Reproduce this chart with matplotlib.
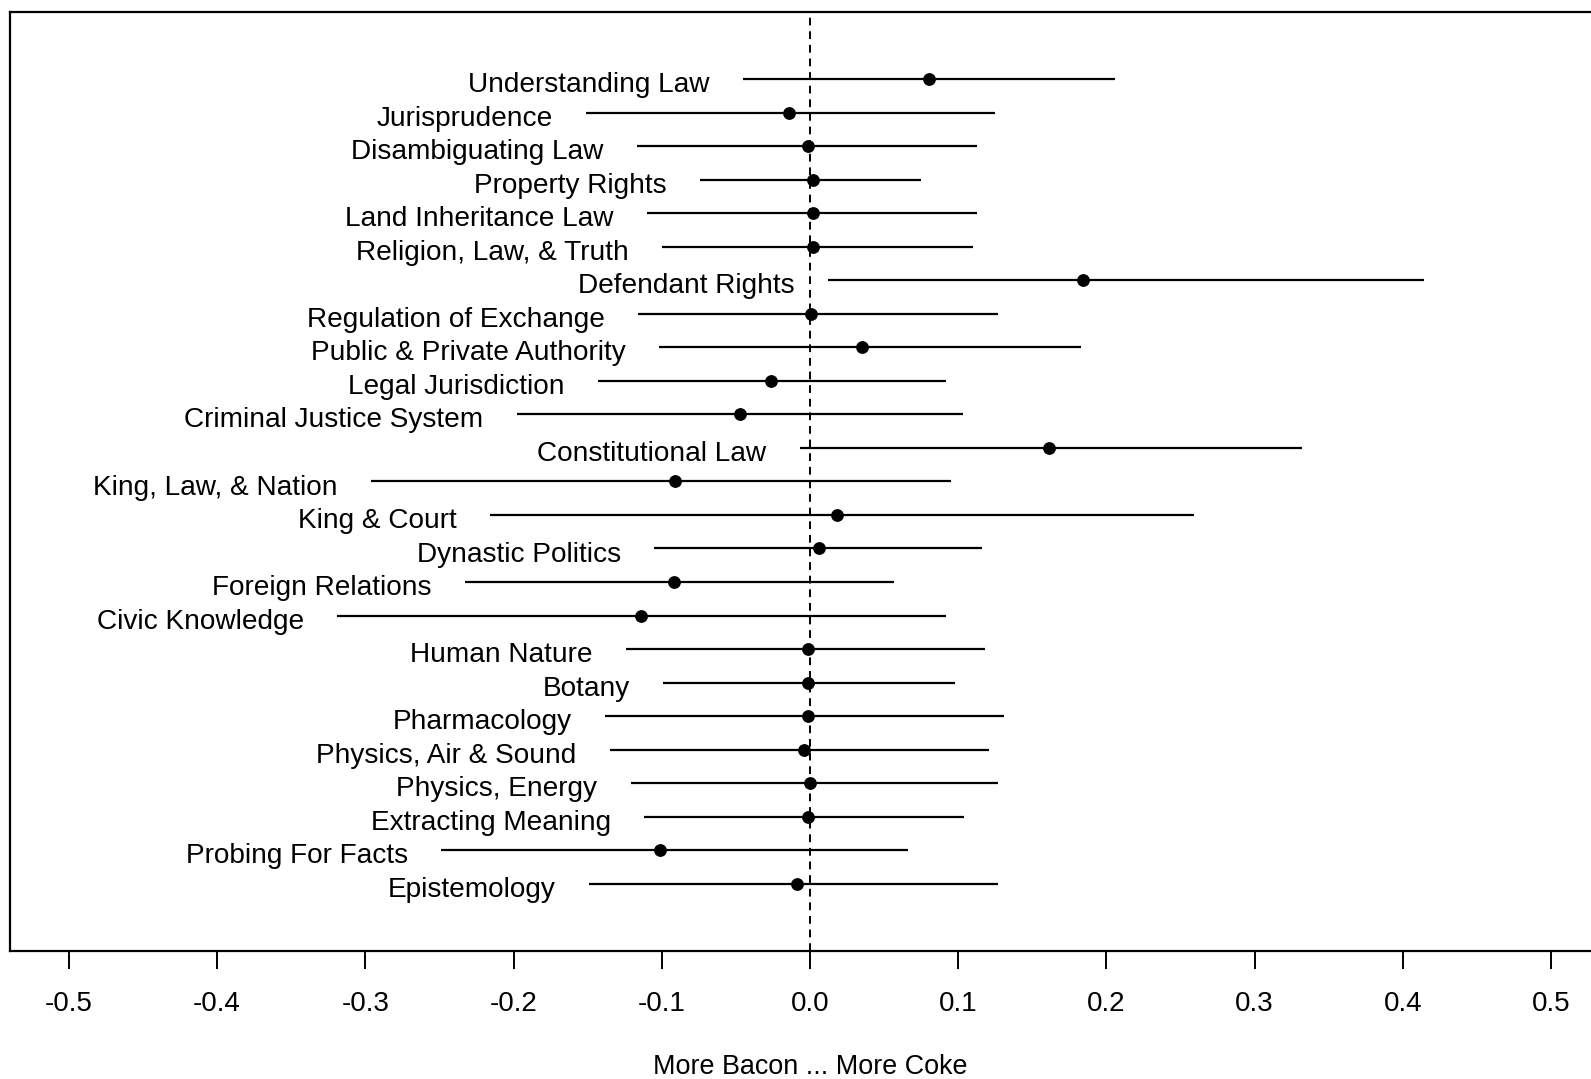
"""
Coefficient plot: topic shifts, More Bacon ... More Coke.
Point estimates with interval lines, labels sitting left of each interval.
"""

import matplotlib
matplotlib.use("Agg")
import matplotlib.pyplot as plt

plt.rcParams['font.family'] = ['Liberation Sans', 'DejaVu Sans']

topics = ["Understanding Law", "Jurisprudence", "Disambiguating Law", "Property Rights",
          "Land Inheritance Law", "Religion, Law, & Truth", "Defendant Rights",
          "Regulation of Exchange", "Public & Private Authority", "Legal Jurisdiction",
          "Criminal Justice System", "Constitutional Law", "King, Law, & Nation",
          "King & Court", "Dynastic Politics", "Foreign Relations", "Civic Knowledge",
          "Human Nature", "Botany", "Pharmacology", "Physics, Air & Sound",
          "Physics, Energy", "Extracting Meaning", "Probing For Facts", "Epistemology"]

estimate = [0.080, -0.014, -0.001, 0.002, 0.002, 0.002, 0.184, 0.001, 0.035, -0.026,
            -0.047, 0.161, -0.091, 0.018, 0.006, -0.092, -0.114, -0.001, -0.001, -0.001,
            -0.004, 0.000, -0.001, -0.101, -0.009]
lower = [-0.045, -0.151, -0.117, -0.074, -0.110, -0.100, 0.012, -0.116, -0.102, -0.143,
         -0.198, -0.007, -0.296, -0.216, -0.105, -0.233, -0.319, -0.124, -0.099, -0.138,
         -0.135, -0.121, -0.112, -0.249, -0.149]
upper = [0.206, 0.125, 0.113, 0.075, 0.113, 0.110, 0.414, 0.127, 0.183, 0.092,
         0.103, 0.332, 0.095, 0.259, 0.116, 0.057, 0.092, 0.118, 0.098, 0.131,
         0.121, 0.127, 0.104, 0.066, 0.127]

tick_vals = [-0.5, -0.4, -0.3, -0.2, -0.1, 0.0, 0.1, 0.2, 0.3, 0.4, 0.5]
tick_labels = ["-0.5", "-0.4", "-0.3", "-0.2", "-0.1", "0.0", "0.1", "0.2", "0.3", "0.4", "0.5"]

fig = plt.figure(figsize=(15.91, 10.79), dpi=100)
# the right side of the box runs past the edge of the image, as in the original
ax = fig.add_axes([0.0061, 0.1189, 1.006, 0.8698])

n = len(topics)
ypos = list(range(n, 0, -1))

ax.axvline(0, color='black', lw=1.4, dashes=(4, 3), zorder=1)

for y, lo, hi, est, name in zip(ypos, lower, upper, estimate, topics):
    ax.plot([lo, hi], [y, y], color='black', lw=1.6, solid_capstyle='butt', zorder=2)
    ax.plot(est, y, 'o', color='black', markersize=8.2, zorder=3)
    ax.annotate(name, xy=(lo, y), xytext=(-24, -2.2), textcoords='offset points',
                ha='right', va='center_baseline', fontsize=20.2)

ax.set_xlim(-0.54, 0.54)
ax.set_ylim(-1, n + 2)
ax.set_yticks([])
ax.set_xticks(tick_vals)
ax.set_xticklabels(tick_labels, fontsize=20)
ax.tick_params(axis='x', direction='out', length=13, width=1.4, pad=16)
ax.set_xlabel("More Bacon ... More Coke", fontsize=19.4, labelpad=26.5)

for sp in ax.spines.values():
    sp.set_linewidth(1.6)

fig.savefig("out.png", dpi=100)
